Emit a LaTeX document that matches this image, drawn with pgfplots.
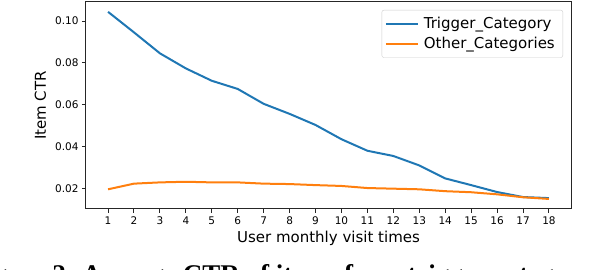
\documentclass[border=0pt]{standalone}
\usepackage{fontspec}
\setmainfont{DejaVu Sans}
\newfontfamily\capfont{Liberation Serif}
\usepackage{pgfplots}
\pgfplotsset{compat=1.18}
\definecolor{mplblue}{HTML}{1F77B4}
\definecolor{mplorange}{HTML}{FF7F0E}
\begin{document}
\begin{tikzpicture}[x=1pt,y=1pt]
\useasboundingbox (0,0) rectangle (606,270);
\clip (0,0) rectangle (606,270);
\begin{axis}[
  at={(86pt,61pt)}, anchor=south west,
  width=485pt, height=207pt, scale only axis,
  xmin=0.15, xmax=18.85, ymin=0.0103, ymax=0.1091,
  xtick={1,...,18},
  ytick={0.02,0.04,0.06,0.08,0.10},
  yticklabel style={/pgf/number format/.cd, fixed, fixed zerofill, precision=2, assume math mode=true},
  xticklabel style={/pgf/number format/assume math mode=true},
  tick label style={font=\fontsize{10.5}{12}\selectfont},
  label style={font=\fontsize{15}{17}\selectfont},
  xlabel={User monthly visit times},
  ylabel={Item CTR},
  xlabel style={at={(axis description cs:0.5,0)}, anchor=base, yshift=-34pt},
  ylabel style={at={(axis description cs:0,0.5)}, anchor=base, yshift=40pt},
  tick align=outside, xtick pos=bottom, ytick pos=left,
  major tick length=4pt,
  every tick/.style={black!85, line width=1pt},
  axis line style={black!85, line width=1pt},
  scaled y ticks=false,
  legend style={at={(1,1)}, anchor=north east, xshift=-8pt, yshift=-8pt,
    draw=black!20, rounded corners=2pt, fill=white, fill opacity=0.8, text opacity=1,
    font=\fontsize{15}{17}\selectfont, row sep=3.5pt, inner xsep=3pt, inner ysep=5pt,
    nodes={inner xsep=5pt}},
  legend cell align=left,
  legend image code/.code={\draw[#1, line width=2pt] (0pt,0pt) -- (32pt,0pt);},
]
\addplot[mplblue, line width=2pt] coordinates {
(1,0.1044) (2,0.0946) (3,0.0846) (4,0.0774) (5,0.0715) (6,0.0676) (7,0.0605) (8,0.0557) (9,0.0504)
(10,0.0436) (11,0.0381) (12,0.0356) (13,0.0311) (14,0.0249) (15,0.0217) (16,0.0184) (17,0.0160) (18,0.0155)};
\addlegendentry{Trigger\_Category}
\addplot[mplorange, line width=2pt] coordinates {
(1,0.0197) (2,0.0224) (3,0.0230) (4,0.0233) (5,0.0230) (6,0.0230) (7,0.0224) (8,0.0222) (9,0.0217)
(10,0.0213) (11,0.0203) (12,0.0200) (13,0.0197) (14,0.0188) (15,0.0183) (16,0.0173) (17,0.0159) (18,0.0151)};
\addlegendentry{Other\_Categories}
\end{axis}
\node[anchor=base east, inner sep=0pt, font=\capfont\bfseries\fontsize{27}{27}\selectfont] at (75,-14) {Figure 2:};
\node[anchor=base west, inner sep=0pt, font=\capfont\bfseries\fontsize{27}{27}\selectfont] at (82,-14) {Average CTR of items from trigger category and};
\end{tikzpicture}
\end{document}
